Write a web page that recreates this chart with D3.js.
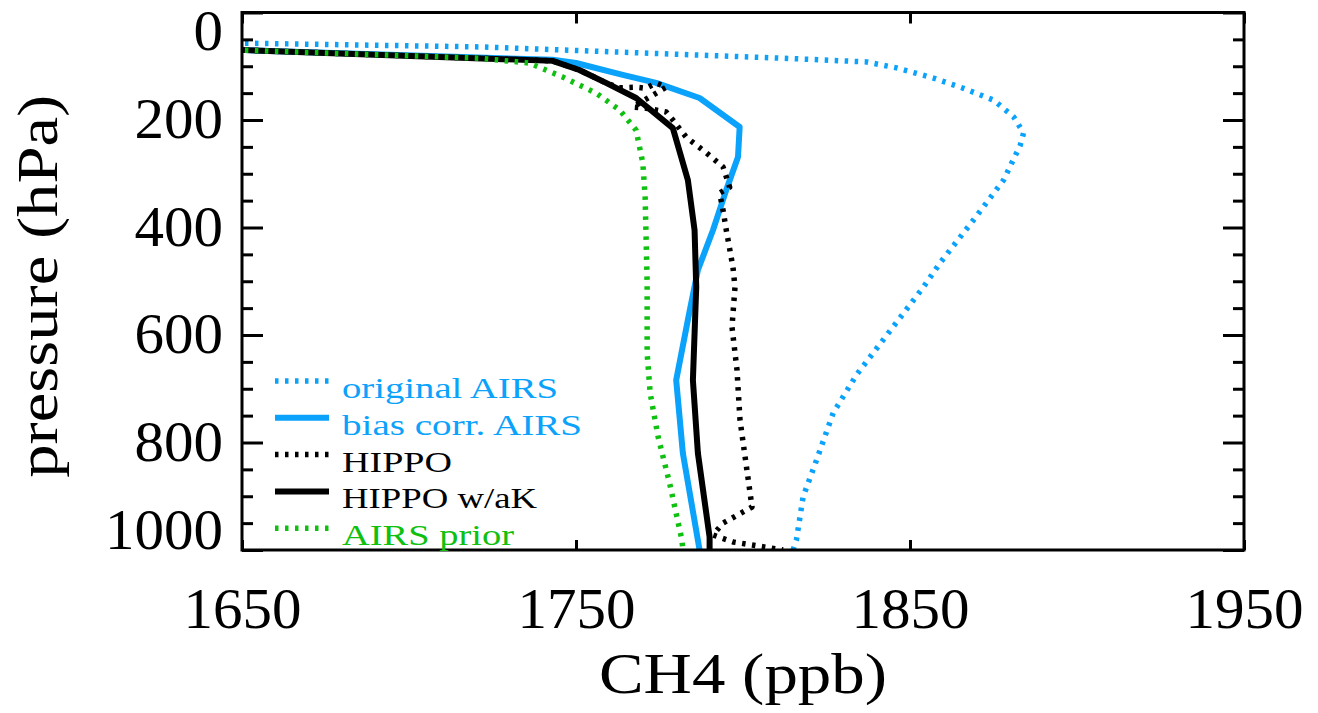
<!DOCTYPE html>
<html>
<head>
<meta charset="utf-8">
<script src="https://cdn.jsdelivr.net/npm/d3@7"></script>
<style>
  body { margin: 0; background: #fff; }
  svg text { font-family: "Liberation Serif", "Times New Roman", "DejaVu Serif", serif; }
</style>
</head>
<body>
<div id="chart"></div>
<script>
// data (pressure in hPa, CH4 in ppb)
const origPres = [52, 57, 64, 85, 92, 103, 122, 141, 163, 194, 224, 247, 312, 386, 466, 511, 674, 745, 833, 901, 981, 1000]
const origCH4  = [1600, 1650, 1721, 1812, 1837, 1846, 1857, 1866, 1875, 1881, 1884, 1883, 1878, 1869, 1859, 1854, 1834, 1827, 1822, 1818, 1816, 1815]

const biasPres = [59, 70, 88, 94, 116, 131, 159, 213, 269, 330, 405, 479, 572, 684, 820, 1000]
const biasCH4  = [1600, 1651, 1743, 1750, 1764, 1774, 1787, 1799, 1798.5, 1795, 1791, 1786.5, 1783.5, 1780, 1782, 1787]

const hippoPres = [59, 70, 90, 107, 131, 140, 139, 141, 131, 139, 176, 178, 185, 200, 232, 261, 287, 325, 336, 367, 405, 474, 511, 585, 665, 758, 920, 950, 972, 985, 992, 1000]
const hippoCH4  = [1600, 1651, 1743, 1751, 1759, 1763, 1768, 1771, 1774, 1777, 1767, 1771, 1777, 1779, 1783, 1789, 1794, 1796, 1793, 1794, 1795, 1797, 1797.6, 1796.7, 1798.2, 1799.1, 1802.7, 1794, 1791, 1797, 1804, 1812]

const akPres = [59, 70, 90, 107, 131, 159, 215, 312, 405, 511, 684, 820, 976, 1000]
const akCH4  = [1600, 1651, 1743, 1751, 1759, 1768, 1779, 1783.5, 1785.5, 1786, 1785, 1786.5, 1790, 1790]

const priorPres = [59, 70, 85, 94, 120, 150, 181, 219, 280, 343, 503, 634, 708, 790, 875, 981, 1000]
const priorCH4  = [1600, 1650, 1721, 1736, 1746, 1756, 1763, 1768, 1770, 1770.7, 1771.3, 1771.3, 1772.2, 1774.6, 1778, 1781.7, 1782]

const xTicks = [1650, 1750, 1850, 1950]
const yTicks = [0, 200, 400, 600, 800, 1000]

const seriesNames = ['original AIRS', 'bias corr. AIRS', 'HIPPO', 'HIPPO w/aK', 'AIRS prior']
const seriesColors = ['#0aa2fa', '#0aa2fa', '#000000', '#000000', '#10c010']
const seriesDotted = [true, false, true, false, true]
const seriesData = [
    [origCH4, origPres],
    [biasCH4, biasPres],
    [hippoCH4, hippoPres],
    [akCH4, akPres],
    [priorCH4, priorPres]
]

// const
const width = 1318
const height = 713
const margin = { top: 12.5, right: 74, bottom: 163, left: 242 }
const fmt = d3.format('d')
const fs = 56
const digitW = 29.5   // width of one digit in the reference

// svg
const svg = d3.select('#chart')
    .append('svg')
    .attr('width', width)
    .attr('height', height)

const x = d3.scaleLinear()
    .domain([1650, 1950])
    .range([margin.left, width - margin.right])
const y = d3.scaleLinear()
    .domain([0, 1000])
    .range([margin.top, height - margin.bottom])

svg.append('clipPath')
    .attr('id', 'clip')
    .append('rect')
    .attr('x', x(1650))
    .attr('y', y(0))
    .attr('width', x(1950) - x(1650))
    .attr('height', y(1000) - y(0))

// lines
const line = d3.line()
    .x(d => x(d[0]))
    .y(d => y(d[1]))

const plot = svg.append('g').attr('clip-path', 'url(#clip)')
seriesData.forEach((s, i) => {
    const pts = s[0].map((v, j) => [v, s[1][j]])
    plot.append('path')
        .datum(pts)
        .attr('d', line)
        .attr('fill', 'none')
        .attr('stroke', seriesColors[i])
        .attr('stroke-width', seriesDotted[i] ? 5.5 : 6)
        .attr('stroke-dasharray', seriesDotted[i] ? '3.5,6.5' : null)
        .attr('stroke-linejoin', 'round')
})

// x axes (bottom with labels, top ticks only)
svg.append('g')
    .attr('transform', `translate(0, ${y(1000)})`)
    .call(d3.axisBottom(x).tickValues(xTicks).tickFormat(fmt).tickSize(-10).tickPadding(38))
    .call(g => g.select('.domain').remove())
    .call(g => g.selectAll('line').attr('stroke-width', 3))
    .call(g => g.selectAll('text').attr('font-size', fs).attr('fill', '#000')
        .attr('textLength', d => fmt(d).length * digitW)
        .attr('lengthAdjust', 'spacingAndGlyphs'))
svg.append('g')
    .attr('transform', `translate(0, ${y(0)})`)
    .call(d3.axisTop(x).tickValues(xTicks).tickSize(-11).tickFormat(''))
    .call(g => g.select('.domain').remove())
    .call(g => g.selectAll('line').attr('stroke-width', 3))

// y axes: minor every 50, major every 200
const minor = d3.range(0, 1001, 50).filter(v => v % 200 !== 0)
svg.append('g')
    .attr('transform', `translate(${x(1650)}, 0)`)
    .call(d3.axisLeft(y).tickValues(minor).tickSize(-11).tickFormat(''))
    .call(g => g.select('.domain').remove())
    .call(g => g.selectAll('line').attr('stroke-width', 3))
svg.append('g')
    .attr('transform', `translate(${x(1950)}, 0)`)
    .call(d3.axisRight(y).tickValues(minor).tickSize(-11).tickFormat(''))
    .call(g => g.select('.domain').remove())
    .call(g => g.selectAll('line').attr('stroke-width', 3))
svg.append('g')
    .attr('transform', `translate(${x(1650)}, 0)`)
    .call(d3.axisLeft(y).tickValues(yTicks).tickFormat(fmt).tickSize(-21).tickPadding(19))
    .call(g => g.select('.domain').remove())
    .call(g => g.selectAll('line').attr('stroke-width', 3))
    .call(g => g.selectAll('text').attr('font-size', fs).attr('fill', '#000')
        .attr('textLength', d => fmt(d).length * digitW)
        .attr('lengthAdjust', 'spacingAndGlyphs')
        .attr('y', d => Math.max(y(0) + 19, Math.min(y(1000) - 19, y(d))) - y(d)))
svg.append('g')
    .attr('transform', `translate(${x(1950)}, 0)`)
    .call(d3.axisRight(y).tickValues(yTicks).tickSize(-21).tickFormat(''))
    .call(g => g.select('.domain').remove())
    .call(g => g.selectAll('line').attr('stroke-width', 3))

// frame
svg.append('rect')
    .attr('x', x(1650))
    .attr('y', y(0))
    .attr('width', x(1950) - x(1650))
    .attr('height', y(1000) - y(0))
    .attr('fill', 'none')
    .attr('stroke', '#000')
    .attr('stroke-width', 3)

// axis titles
svg.append('text')
    .attr('x', (x(1650) + x(1950)) / 2)
    .attr('y', 693)
    .attr('text-anchor', 'middle')
    .attr('font-size', fs)
    .attr('textLength', 288)
    .attr('lengthAdjust', 'spacingAndGlyphs')
    .text('CH4 (ppb)')
svg.append('text')
    .attr('transform', `translate(57, ${(y(0) + y(1000)) / 2 + 5}) rotate(-90)`)
    .attr('text-anchor', 'middle')
    .attr('font-size', fs)
    .attr('textLength', 383)
    .attr('lengthAdjust', 'spacingAndGlyphs')
    .text('pressure (hPa)')

// legend
const legendWidths = [216, 240, 110, 195, 172]
const legend = svg.append('g')
seriesNames.forEach((name, i) => {
    const ly = 381 + i * 36.8
    legend.append('line')
        .attr('x1', 275).attr('x2', 329)
        .attr('y1', ly).attr('y2', ly)
        .attr('stroke', seriesColors[i])
        .attr('stroke-width', seriesDotted[i] ? 5.5 : 6)
        .attr('stroke-dasharray', seriesDotted[i] ? '3.5,6.5' : null)
    legend.append('text')
        .attr('x', 342)
        .attr('y', ly + 17)
        .attr('font-size', 30)
        .attr('fill', seriesColors[i])
        .attr('textLength', legendWidths[i])
        .attr('lengthAdjust', 'spacingAndGlyphs')
        .text(name)
})
</script>
</body>
</html>
